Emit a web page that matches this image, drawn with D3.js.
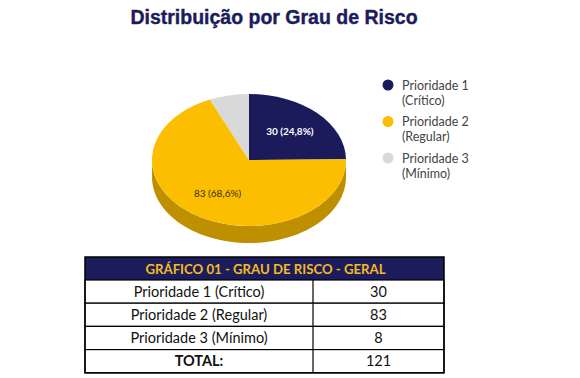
<html>
<head>
<meta charset="utf-8">
<title>Distribuição por Grau de Risco</title>
<style>
  body { margin: 0; background: #fff; }
  text { font-family: Lato, "Noto Sans", sans-serif; }
</style>
<script src="https://d3js.org/d3.v7.min.js"></script>
</head>
<body>
<script>
var categorias = ["Prioridade 1", "Prioridade 2", "Prioridade 3"];
var subtitulos = ["(Crítico)", "(Regular)", "(Mínimo)"];
var linhasTabela = ["Prioridade 1 (Crítico)", "Prioridade 2 (Regular)", "Prioridade 3 (Mínimo)"];
var valores = [30, 83, 8];
var rotulos = ["30 (24,8%)", "83 (68,6%)", ""];
var totalLabel = "TOTAL:";
var cabecalho = "GRÁFICO 01 - GRAU DE RISCO - GERAL";

var width = 580, height = 378;
var cores = ["#1b1b5c", "#fcbe00", "#d9d9d9"];
var coresLado = ["#0f0f3a", "#be9000", "#a8a8a8"];
var corTexto = ["#ffffff", "#3a2e00", "#333"];

var svg = d3.select("body").append("svg")
  .attr("width", width).attr("height", height);

// titulo
svg.append("text")
  .attr("x", 274).attr("y", 24)
  .attr("text-anchor", "middle")
  .style("font-family", "'Liberation Sans', Arial, sans-serif")
  .attr("font-weight", "bold")
  .attr("font-size", 19.5)
  .attr("fill", "#1c1c5c")
  .attr("stroke", "#1c1c5c").attr("stroke-width", 0.4)
  .text("Distribuição por Grau de Risco");

// pizza 3d
var cx = 249, cy = 160, rx = 97, ry = 66, prof = 17;
var pie = d3.pie().sort(null)(valores);
var arc = d3.arc().innerRadius(0).outerRadius(rx);

var g = svg.append("g");

// lateral (so a metade da frente)
pie.forEach(function(d, i) {
  var a0 = Math.max(d.startAngle, Math.PI / 2);
  var a1 = Math.min(d.endAngle, Math.PI * 3 / 2);
  if (a1 <= a0) return;
  var n = 60, pts = [];
  for (var k = 0; k <= n; k++) {
    var a = a0 + (a1 - a0) * k / n;
    pts.push([cx + rx * Math.sin(a), cy - ry * Math.cos(a)]);
  }
  for (var k = n; k >= 0; k--) {
    var a = a0 + (a1 - a0) * k / n;
    pts.push([cx + rx * Math.sin(a), cy - ry * Math.cos(a) + prof]);
  }
  g.append("path")
    .attr("d", d3.line()(pts) + "Z")
    .attr("fill", coresLado[i]);
});

// topo
var topo = g.append("g")
  .attr("transform", "translate(" + cx + "," + cy + ") scale(1," + (ry / rx) + ")");
topo.selectAll("path")
  .data(pie)
  .enter().append("path")
  .attr("d", arc)
  .attr("fill", function(d, i) { return cores[i]; });

var arcRot = d3.arc().innerRadius(rx * 0.6).outerRadius(rx * 0.6);
g.selectAll(".rot")
  .data(pie)
  .enter().append("text")
  .attr("class", "rot")
  .attr("x", function(d) { return cx + arcRot.centroid(d)[0]; })
  .attr("y", function(d) { return cy + arcRot.centroid(d)[1] * ry / rx + 3.5; })
  .attr("text-anchor", "middle")
  .attr("font-size", 10)
  .attr("font-weight", function(d, i) { return i === 0 ? "bold" : "normal"; })
  .attr("fill", function(d, i) { return corTexto[i]; })
  .text(function(d, i) { return rotulos[i]; });

// legenda
var leg = svg.append("g");
var legY = d3.scaleLinear().domain([0, 1]).range([85, 121.5]);
categorias.forEach(function(c, i) {
  var y = legY(i);
  leg.append("circle").attr("cx", 388).attr("cy", y).attr("r", 5.5).attr("fill", cores[i]);
  leg.append("text").attr("x", 402).attr("y", y + 4.5)
    .attr("font-size", 12.5).attr("fill", "#444").text(c);
  leg.append("text").attr("x", 402).attr("y", y + 19.5)
    .attr("font-size", 12.5).attr("fill", "#444").text(subtitulos[i]);
});

// tabela
var tx0 = 85, tx1 = 444, tdiv = 313, ty0 = 257, hHead = 23, hRow = 23.2;
var tab = svg.append("g");
tab.append("rect").attr("x", tx0).attr("y", ty0).attr("width", tx1 - tx0).attr("height", hHead)
  .attr("fill", "#1c1c5c");
tab.append("text").attr("x", (tx0 + tx1) / 2 + 1).attr("y", ty0 + 16.5)
  .attr("text-anchor", "middle").attr("font-size", 13.2).attr("font-weight", "bold")
  .attr("fill", "#f2bd1e").text(cabecalho);

var linhas = linhasTabela.map(function(l, i) { return [l, valores[i]]; });
linhas.push([totalLabel, d3.sum(valores)]);
linhas.forEach(function(r, i) {
  var y = ty0 + hHead + i * hRow;
  tab.append("rect").attr("x", tx0).attr("y", y).attr("width", tx1 - tx0).attr("height", hRow)
    .attr("fill", "#fff").attr("stroke", "#000").attr("stroke-width", 1.2);
  tab.append("line").attr("x1", tdiv).attr("x2", tdiv).attr("y1", y).attr("y2", y + hRow)
    .attr("stroke", "#000").attr("stroke-width", 1.2);
  tab.append("text").attr("x", (tx0 + tdiv) / 2).attr("y", y + 16.5)
    .attr("text-anchor", "middle").attr("font-size", 14.5)
    .attr("font-weight", i === 3 ? "bold" : "normal")
    .attr("fill", "#111").text(r[0]);
  tab.append("text").attr("x", (tdiv + tx1) / 2).attr("y", y + 16.5)
    .attr("text-anchor", "middle").attr("font-size", 14.5)
    .attr("fill", "#111").text(r[1]);
});
tab.append("rect").attr("x", tx0).attr("y", ty0).attr("width", tx1 - tx0)
  .attr("height", hHead + 4 * hRow).attr("fill", "none").attr("stroke", "#000").attr("stroke-width", 1.5);
</script>
</body>
</html>
